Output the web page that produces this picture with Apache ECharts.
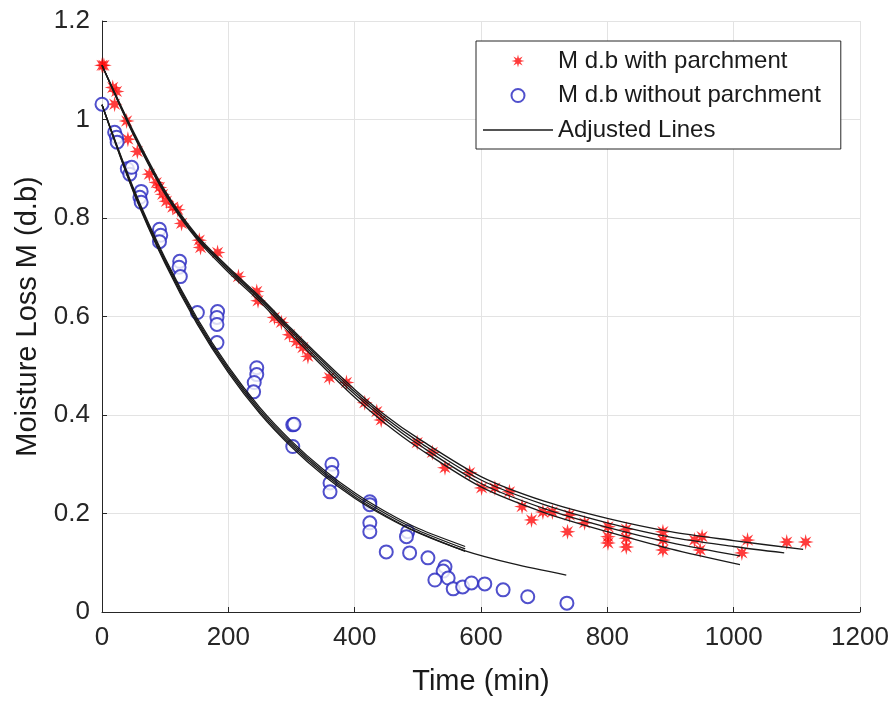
<!DOCTYPE html>
<html>
<head>
<meta charset="utf-8">
<script src="https://cdn.jsdelivr.net/npm/echarts@6/dist/echarts.min.js"></script>
<style>
html,body{margin:0;padding:0;background:#fff;}
#chart{width:893px;height:702px;}
</style>
</head>
<body>
<div id="chart"></div>
<script>
// ---- data ----
var xTicks = [0, 200, 400, 600, 800, 1000, 1200];
var yTicks = [0, 0.2, 0.4, 0.6, 0.8, 1, 1.2];

var withT = [0,3,17,23,20,39,41,56,75,86,91,96,102,112,120,126,154,156,183,216,245,247,273,284,297,308,318,326,360,387,416,435,442,499,523,543,582,601,622,645,665,680,698,713,740,737,764,801,801,801,830,830,830,888,888,888,938,950,947,1013,1022,1084,1114];
var withM = [1.11,1.11,1.065,1.057,1.031,0.997,0.96,0.935,0.889,0.872,0.862,0.848,0.834,0.822,0.817,0.789,0.755,0.74,0.73,0.681,0.651,0.632,0.598,0.588,0.563,0.549,0.537,0.519,0.476,0.466,0.425,0.407,0.39,0.344,0.324,0.293,0.283,0.252,0.252,0.244,0.214,0.187,0.203,0.203,0.197,0.163,0.181,0.173,0.153,0.14,0.168,0.15,0.132,0.163,0.146,0.126,0.146,0.153,0.126,0.12,0.146,0.142,0.142];

var withoutT = [0,20,23,24,40,44,47,62,60,62,91,93,91,123,122,124,151,183,182,182,182,245,245,241,240,302,304,302,364,364,361,361,424,424,424,424,450,484,482,487,516,543,540,527,548,556,571,585,606,635,674,736];
var withoutM = [1.031,0.974,0.964,0.954,0.9,0.889,0.903,0.854,0.842,0.832,0.777,0.765,0.752,0.712,0.7,0.681,0.608,0.61,0.598,0.584,0.547,0.496,0.482,0.466,0.447,0.38,0.381,0.336,0.3,0.283,0.262,0.244,0.224,0.218,0.181,0.163,0.122,0.163,0.153,0.12,0.11,0.092,0.083,0.065,0.069,0.047,0.051,0.059,0.057,0.045,0.031,0.018];

// adjusted (fitted) lines, read at sample times
var fitRedT_A = [0,50,100,150,200,250,300,350,400,450,500,600,700,800,900,1000,1110];
var fitRedM_A = [1.11,0.975,0.855,0.765,0.70,0.64,0.575,0.512,0.452,0.398,0.353,0.275,0.225,0.19,0.163,0.145,0.127];
var fitRedT_B = [0,50,100,150,200,250,300,350,400,450,500,600,700,800,900,1000,1080];
var fitRedM_B = [1.11,0.972,0.852,0.762,0.697,0.637,0.572,0.508,0.447,0.393,0.347,0.268,0.218,0.181,0.152,0.133,0.12];
var fitRedT_C = [0,50,100,150,200,250,300,350,400,450,500,600,700,800,900,1010];
var fitRedM_C = [1.11,0.97,0.85,0.76,0.694,0.634,0.568,0.503,0.442,0.388,0.341,0.261,0.21,0.172,0.141,0.114];
var fitRedT_D = [0,50,100,150,200,250,300,350,400,450,500,600,700,800,900,1010];
var fitRedM_D = [1.11,0.968,0.848,0.757,0.69,0.63,0.563,0.498,0.436,0.381,0.334,0.254,0.202,0.163,0.128,0.096];

var fitBlueT_A = [0,50,100,150,200,250,300,350,400,450,500,575];
var fitBlueM_A = [1.03,0.86,0.718,0.598,0.498,0.415,0.347,0.29,0.242,0.203,0.17,0.133];
var fitBlueT_B = [0,50,100,150,200,250,300,350,400,450,500,575];
var fitBlueM_B = [1.03,0.857,0.714,0.594,0.494,0.411,0.343,0.286,0.238,0.199,0.166,0.128];
var fitBlueT_C = [0,50,100,150,200,250,300,350,400,450,500,575];
var fitBlueM_C = [1.03,0.854,0.71,0.59,0.49,0.407,0.339,0.282,0.234,0.195,0.162,0.123];
var fitBlueT_D = [0,50,100,150,200,250,300,350,400,450,500,575,650,735];
var fitBlueM_D = [1.03,0.852,0.707,0.586,0.486,0.403,0.335,0.278,0.231,0.193,0.161,0.124,0.098,0.075];

var names = ['M d.b with parchment', 'M d.b without parchment', 'Adjusted Lines'];

function zip(a, b) { return a.map(function (v, i) { return [v, b[i]]; }); }

var starPath = 'path://M20,10 L13.7,11.5 L17.07,17.07 L11.5,13.7 L10,20 L8.5,13.7 L2.93,17.07 L6.3,11.5 L0,10 L6.3,8.5 L2.93,2.93 L8.5,6.3 L10,0 L11.5,6.3 L17.07,2.93 L13.7,8.5 Z';

var fits = [
  [fitRedT_A, fitRedM_A], [fitRedT_B, fitRedM_B], [fitRedT_C, fitRedM_C], [fitRedT_D, fitRedM_D],
  [fitBlueT_A, fitBlueM_A], [fitBlueT_B, fitBlueM_B], [fitBlueT_C, fitBlueM_C], [fitBlueT_D, fitBlueM_D]
];

var axisColor = '#262626';
var font = 'Arial, "Liberation Sans", Helvetica, sans-serif';

var series = [
  {
    name: names[0], type: 'scatter', data: zip(withT, withM),
    symbol: starPath, symbolSize: 16,
    itemStyle: { color: '#ff0a0a' }, z: 2
  },
  {
    name: names[1], type: 'scatter', data: zip(withoutT, withoutM),
    symbol: 'emptyCircle', symbolSize: 13,
    itemStyle: { color: '#2424bf', borderColor: '#2424bf', borderWidth: 1.6 }, z: 2
  }
];
fits.forEach(function (f) {
  series.push({
    name: names[2], type: 'line', data: zip(f[0], f[1]),
    smooth: 0.3, symbol: 'none', showSymbol: false,
    lineStyle: { color: '#1a1a1a', width: 1.3 },
    itemStyle: { color: '#1a1a1a' }, z: 3, silent: true
  });
});

var chart = echarts.init(document.getElementById('chart'), null, { renderer: 'canvas' });
chart.setOption({
  animation: false,
  backgroundColor: '#ffffff',
  textStyle: { fontFamily: font },
  grid: { left: 102, right: 33, top: 21, bottom: 90, containLabel: false },
  xAxis: {
    type: 'value', min: xTicks[0], max: xTicks[xTicks.length - 1], interval: 200,
    name: 'Time (min)', nameLocation: 'middle', nameGap: 55,
    nameTextStyle: { fontSize: 29, color: '#1a1a1a', fontFamily: font },
    axisLine: { show: true, onZero: false, lineStyle: { color: axisColor, width: 1 } },
    axisTick: { show: true, inside: true, length: 5, lineStyle: { color: axisColor } },
    axisLabel: { fontSize: 26, color: axisColor, margin: 13, fontFamily: font,
      formatter: function (v) { return String(v); } },
    splitLine: { show: true, showMinLine: false, lineStyle: { color: '#e3e3e3', width: 1 } }
  },
  yAxis: {
    type: 'value', min: yTicks[0], max: yTicks[yTicks.length - 1], interval: 0.2,
    name: 'Moisture Loss M (d.b)', nameLocation: 'middle', nameGap: 60, nameRotate: 90,
    nameTextStyle: { fontSize: 29, color: '#1a1a1a', fontFamily: font },
    axisLine: { show: true, onZero: false, lineStyle: { color: axisColor, width: 1 } },
    axisTick: { show: true, inside: true, length: 5, lineStyle: { color: axisColor } },
    axisLabel: { fontSize: 26, color: axisColor, margin: 12, fontFamily: font,
      formatter: function (v) { return String(Math.round(v * 10) / 10); } },
    splitLine: { show: true, showMinLine: false, lineStyle: { color: '#e3e3e3', width: 1 } }
  },
  legend: {
    data: [
      { name: names[0] },
      { name: names[1] },
      { name: names[2], icon: 'path://M0,0 H70 V1.4 H0 Z' }
    ],
    orient: 'vertical', left: 476, top: 41,
    padding: [8, 20, 7, 7], itemGap: 10.5, itemWidth: 70, itemHeight: 13,
    backgroundColor: '#ffffff', borderColor: '#262626', borderWidth: 1,
    textStyle: { fontSize: 24, color: '#1a1a1a', lineHeight: 24, fontFamily: font },
    symbolKeepAspect: true
  },
  series: series
});
</script>
</body>
</html>
